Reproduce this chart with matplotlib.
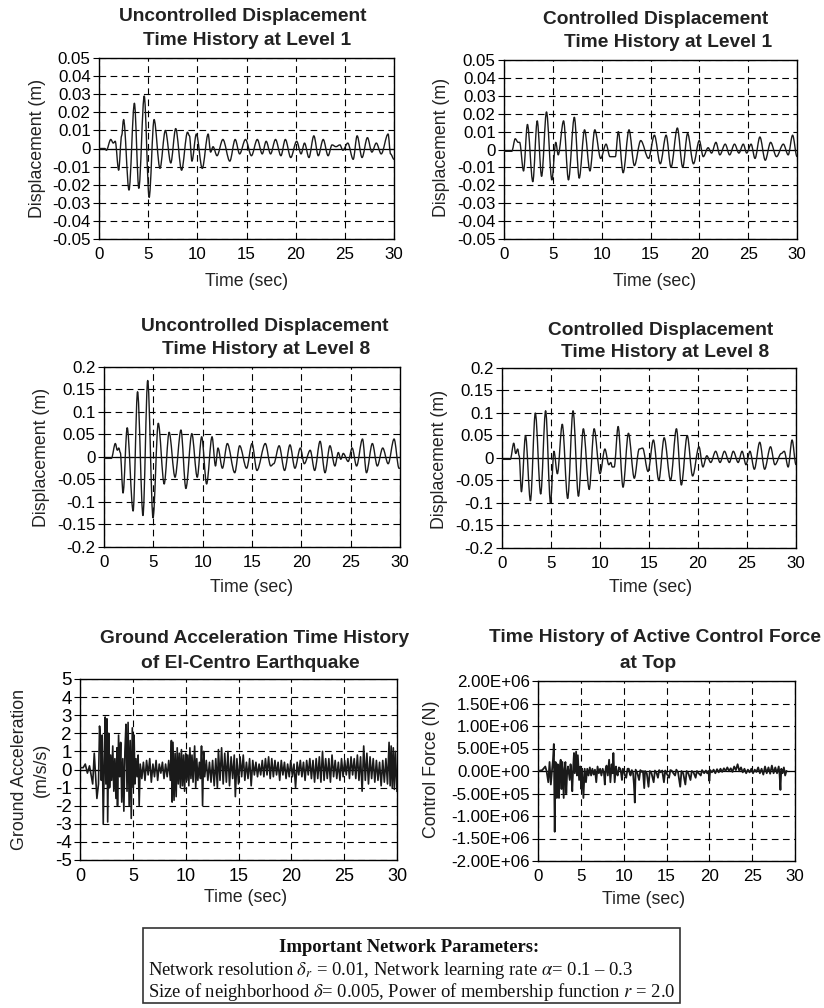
import matplotlib
matplotlib.use("Agg")
import matplotlib.pyplot as plt
from matplotlib.ticker import FuncFormatter
from matplotlib.patches import Rectangle, PathPatch
from matplotlib.path import Path

plt.rcParams['font.family'] = ['Liberation Sans', 'DejaVu Sans']
plt.rcParams['axes.unicode_minus'] = False
plt.rcParams['mathtext.fontset'] = 'stix'

# ---- data (extrema of each time history) ----
# displacement at level 1, uncontrolled (m)
t_unc1 = [0.0, 0.6, 0.75, 1.2, 1.45, 1.65, 2.0, 2.3, 2.5, 3.05,
          3.6, 4.05, 4.6, 5.1, 5.6, 6.2, 6.75, 7.3, 7.8, 8.4,
          9.0, 9.2, 9.45, 9.9, 10.5, 11.1, 11.35, 11.6, 12.0, 12.6,
          13.3, 13.85, 14.3, 14.9, 15.5, 16.1, 16.6, 17.0, 17.45, 17.95,
          18.5, 18.95, 19.5, 20.1, 20.55, 20.9, 21.35, 21.85, 22.3, 22.8,
          23.3, 23.7, 24.1, 24.5, 24.8, 25.3, 25.85, 26.25, 26.75, 27.3,
          27.75, 28.2, 28.7, 29.4, 29.65, 30.0]
d_unc1 = [0.0, 0.0, -0.001, 0.005, 0.003, 0.004, -0.012, 0.007, 0.016, -0.023,
          0.025, -0.022, 0.029, -0.027, 0.016, -0.011, 0.010, -0.008, 0.011, -0.012,
          0.009, 0.007, -0.007, 0.008, -0.011, 0.008, -0.002, 0.001, -0.004, 0.005,
          -0.007, 0.005, -0.003, 0.005, -0.004, 0.005, -0.003, 0.004, -0.003, 0.005,
          -0.004, 0.005, -0.005, 0.004, -0.003, 0.003, -0.005, 0.007, -0.004, 0.005,
          -0.004, 0.002, 0.001, 0.002, -0.001, 0.003, -0.006, 0.007, -0.005, 0.006,
          -0.002, 0.003, -0.003, 0.008, -0.003, -0.006]

# displacement at level 1, controlled (m)
t_con1 = [0.0, 0.8, 1.15, 1.45, 1.6, 2.0, 2.4, 2.95, 3.4, 3.85,
          4.35, 4.9, 5.3, 5.55, 6.1, 6.6, 7.2, 7.7, 8.25, 8.8,
          9.3, 9.9, 10.45, 10.85, 11.4, 11.7, 12.2, 12.8, 13.35, 14.0,
          14.8, 15.4, 16.0, 16.6, 17.1, 17.75, 18.3, 18.8, 19.4, 20.0,
          20.4, 20.9, 21.25, 21.7, 22.1, 22.65, 23.1, 23.6, 24.05, 24.5,
          24.85, 25.3, 25.7, 26.2, 26.75, 27.3, 27.9, 28.6, 29.1, 29.55,
          30.0]
d_con1 = [-0.001, -0.001, 0.006, 0.004, 0.004, -0.012, 0.014, -0.018, 0.016, -0.015,
          0.021, -0.017, 0.004, -0.003, 0.016, -0.017, 0.018, -0.016, 0.011, -0.012,
          0.011, -0.005, 0.003, -0.004, -0.004, 0.010, -0.013, 0.011, -0.009, 0.005,
          -0.005, 0.008, -0.008, 0.008, -0.010, 0.012, -0.010, 0.009, -0.008, 0.005,
          -0.004, 0.001, -0.002, 0.004, -0.003, 0.003, -0.003, 0.003, -0.002, 0.003,
          -0.002, 0.003, -0.005, 0.007, -0.006, 0.004, -0.004, 0.003, -0.003, 0.008,
          -0.004]

# displacement at level 8, uncontrolled (m)
t_unc8 = [0.0, 0.75, 1.15, 1.35, 1.5, 1.65, 1.93, 2.35, 2.95, 3.4,
          3.95, 4.43, 4.97, 5.5, 6.1, 6.6, 7.2, 7.8, 8.3, 8.9,
          9.45, 9.9, 10.4, 10.95, 11.3, 11.55, 12.0, 12.5, 13.25, 13.75,
          14.45, 15.0, 15.5, 16.35, 16.9, 17.2, 17.75, 18.3, 18.85, 19.35,
          19.9, 20.3, 20.9, 21.35, 21.9, 22.4, 22.9, 23.4, 23.75, 24.0,
          24.25, 24.75, 25.15, 25.6, 26.2, 26.6, 27.2, 27.7, 28.25, 28.8,
          29.4, 29.9, 30.0]
d_unc8 = [-0.003, -0.003, 0.030, 0.015, 0.020, 0.010, -0.080, 0.065, -0.120, 0.145,
          -0.130, 0.170, -0.135, 0.075, -0.060, 0.055, -0.045, 0.060, -0.070, 0.052,
          -0.045, 0.045, -0.060, 0.045, -0.020, 0.020, -0.025, 0.030, -0.035, 0.025,
          -0.025, 0.030, -0.030, 0.030, -0.020, -0.015, 0.025, -0.030, 0.027, -0.025,
          0.020, -0.015, 0.015, -0.030, 0.035, -0.035, 0.025, -0.020, 0.010, -0.005,
          0.008, -0.010, 0.020, -0.020, 0.040, -0.035, 0.030, -0.020, 0.020, -0.015,
          0.040, -0.025, -0.025]

# displacement at level 8, controlled (m)
t_con8 = [0.0, 0.85, 1.2, 1.4, 1.6, 1.75, 1.98, 2.4, 2.9, 3.4,
          3.95, 4.45, 4.95, 5.3, 5.65, 6.15, 6.7, 7.25, 7.8, 8.3,
          8.9, 9.4, 10.0, 10.5, 10.9, 11.1, 11.25, 11.45, 11.85, 12.35,
          12.9, 13.5, 14.0, 14.35, 14.9, 15.45, 16.0, 16.55, 17.2, 17.8,
          18.3, 18.9, 19.45, 20.1, 20.5, 20.9, 21.3, 21.8, 22.25, 22.7,
          23.2, 23.6, 24.1, 24.5, 24.9, 25.3, 25.75, 26.3, 26.8, 27.4,
          27.85, 28.5, 28.8, 29.2, 29.6, 30.0]
d_con8 = [-0.003, -0.003, 0.033, 0.010, 0.020, 0.005, -0.075, 0.050, -0.095, 0.100,
          -0.080, 0.105, -0.100, 0.015, -0.035, 0.075, -0.090, 0.105, -0.085, 0.065,
          -0.070, 0.065, -0.035, 0.020, -0.015, -0.010, -0.020, -0.020, 0.070, -0.065,
          0.055, -0.045, 0.020, 0.022, -0.030, 0.040, -0.050, 0.045, -0.050, 0.065,
          -0.060, 0.050, -0.040, 0.025, -0.020, 0.005, -0.010, 0.015, -0.010, 0.015,
          -0.010, 0.015, -0.010, 0.015, -0.015, 0.015, -0.025, 0.035, -0.025, 0.025,
          -0.015, 0.010, 0.015, -0.020, 0.040, -0.015]

# El-Centro ground acceleration (m/s/s)
t_acc = [0.0, 0.3, 0.5, 0.7, 0.9, 1.05, 1.2, 1.35, 1.5, 1.6,
         1.75, 1.85, 1.95, 2.02, 2.1, 2.2, 2.3, 2.38, 2.45, 2.55,
         2.62, 2.72, 2.8, 2.9, 3.0, 3.1, 3.2, 3.3, 3.4, 3.5,
         3.55, 3.65, 3.75, 3.85, 3.95, 4.05, 4.15, 4.25, 4.35, 4.45,
         4.55, 4.65, 4.75, 4.85, 4.95, 5.05, 5.12, 5.2, 5.3, 5.4,
         5.5, 5.6, 5.7, 5.85, 6.0, 6.15, 6.3, 6.45, 6.6, 6.75,
         6.9, 7.05, 7.2, 7.35, 7.5, 7.65, 7.8, 7.95, 8.1, 8.25,
         8.4, 8.55, 8.65, 8.72, 8.8, 8.9, 9.0, 9.1, 9.2, 9.3,
         9.4, 9.5, 9.6, 9.7, 9.8, 9.9, 10.0, 10.1, 10.2, 10.3,
         10.4, 10.5, 10.6, 10.7, 10.85, 10.95, 11.05, 11.15, 11.3, 11.4,
         11.5, 11.6, 11.7, 11.8, 11.95, 12.1, 12.25, 12.4, 12.55, 12.7,
         12.85, 13.0, 13.1, 13.25, 13.4, 13.55, 13.7, 13.85, 14.0, 14.15,
         14.3, 14.45, 14.6, 14.7, 14.85, 15.0, 15.15, 15.3, 15.45, 15.6,
         15.75, 15.9, 16.05, 16.2, 16.35, 16.5, 16.65, 16.8, 16.95, 17.1,
         17.25, 17.4, 17.55, 17.7, 17.85, 18.0, 18.15, 18.3, 18.45, 18.6,
         18.75, 18.9, 19.05, 19.2, 19.35, 19.5, 19.65, 19.8, 19.95, 20.1,
         20.25, 20.4, 20.55, 20.7, 20.85, 21.0, 21.15, 21.3, 21.45, 21.6,
         21.75, 21.9, 22.05, 22.2, 22.35, 22.5, 22.65, 22.8, 22.95, 23.1,
         23.25, 23.4, 23.55, 23.7, 23.85, 24.0, 24.15, 24.3, 24.45, 24.6,
         24.75, 24.9, 25.05, 25.2, 25.35, 25.5, 25.65, 25.8, 25.95, 26.1,
         26.25, 26.4, 26.55, 26.7, 26.85, 27.0, 27.15, 27.3, 27.45, 27.6,
         27.75, 27.9, 28.05, 28.2, 28.35, 28.5, 28.65, 28.8, 28.95, 29.1,
         29.25, 29.35, 29.45, 29.55, 29.65, 29.75, 29.85, 30.0]
a_acc = [0.1, 0.1, 0.3, -0.2, 0.2, -0.3, -0.8, 0.9, -0.6, -1.6,
         -0.8, 2.4, 1.6, -0.6, 1.9, -3.0, 0.5, 2.9, -0.8, 2.8,
         -2.9, 2.0, -1.0, 0.8, -0.6, 1.3, -1.2, 0.6, -1.6, 1.2,
         -2.0, 1.9, -0.4, 1.5, -1.8, 0.6, -2.3, 1.0, 2.5, -1.2,
         2.6, -2.0, 1.6, -2.7, 2.3, -1.0, 1.9, -0.8, 0.6, -0.4,
         0.8, -2.0, 0.3, -0.5, 0.4, -0.6, 0.5, -0.3, 0.6, -0.7,
         0.3, -0.4, 0.5, -0.6, 0.3, -0.2, 0.4, -0.5, 0.3, -0.4,
         0.5, -0.6, 1.6, -1.8, 1.5, -1.7, 0.9, -1.5, 1.2, -0.8,
         0.9, -1.0, 1.1, -0.9, 0.8, -1.2, 0.9, -0.6, 0.8, -0.9,
         1.2, -0.5, 0.8, -0.7, 1.3, -1.0, 0.6, -0.6, 0.4, -0.5,
         1.3, -2.0, 1.0, -0.4, 0.5, -0.6, 0.4, -0.7, 0.5, -0.9,
         0.6, -1.0, 1.1, -0.6, 1.2, -0.8, 0.9, -0.7, 1.0, -0.9,
         0.7, -0.5, 0.8, -1.5, 0.6, -0.8, 0.7, -0.4, 0.8, -0.6,
         0.4, -0.5, 0.6, -0.9, 0.5, -0.3, 0.4, -0.4, 0.3, -0.3,
         0.5, -0.4, 0.6, -0.3, 0.7, -0.5, 0.6, -0.4, 0.5, -0.3,
         0.4, -0.6, 0.5, -0.3, 0.4, -0.5, 0.3, -0.4, 0.5, -0.4,
         0.3, -1.0, 0.4, -0.3, 0.5, -0.4, 0.4, -0.6, 0.5, -0.3,
         0.6, -0.5, 0.5, -0.7, 0.6, -0.5, 0.7, -0.7, 1.0, -0.6,
         0.6, -0.5, 0.6, -0.7, 0.8, -0.4, 0.5, -0.5, 0.4, -0.6,
         0.6, -0.4, 0.5, -0.3, 0.6, -0.5, 0.7, -0.3, 0.6, -0.5,
         0.8, -0.6, 0.7, -1.2, 1.3, -0.6, 0.9, -0.8, 0.7, -0.5,
         0.6, -0.7, 0.5, -0.6, 0.4, -0.9, 0.5, -0.7, 0.6, -0.8,
         1.5, -0.9, 1.3, -1.0, 1.2, -1.1, 1.0, -1.2]

# active control force at top (N)
t_frc = [0.0, 0.5, 0.85, 1.0, 1.2, 1.35, 1.5, 1.65, 1.75, 1.85,
         1.95, 2.05, 2.15, 2.2, 2.3, 2.4, 2.45, 2.55, 2.65, 2.75,
         2.85, 3.0, 3.1, 3.2, 3.3, 3.4, 3.5, 3.6, 3.7, 3.8,
         3.9, 4.0, 4.1, 4.2, 4.3, 4.45, 4.55, 4.65, 4.8, 4.95,
         5.05, 5.15, 5.3, 5.45, 5.6, 5.75, 5.9, 6.05, 6.2, 6.35,
         6.5, 6.65, 6.8, 6.95, 7.1, 7.25, 7.4, 7.55, 7.7, 7.8,
         7.9, 8.0, 8.15, 8.3, 8.45, 8.6, 8.7, 8.8, 8.95, 9.1,
         9.2, 9.3, 9.45, 9.6, 9.7, 9.8, 9.9, 10.0, 10.15, 10.3,
         10.45, 10.6, 10.7, 10.8, 10.95, 11.1, 11.2, 11.3, 11.4, 11.6,
         11.8, 11.95, 12.1, 12.25, 12.4, 12.5, 12.7, 12.9, 13.05, 13.25,
         13.5, 13.65, 13.85, 14.0, 14.15, 14.3, 14.5, 14.7, 14.85, 15.0,
         15.3, 15.45, 15.6, 15.8, 16.0, 16.15, 16.35, 16.6, 16.75, 16.95,
         17.2, 17.35, 17.55, 17.8, 17.95, 18.15, 18.4, 18.55, 18.75, 19.0,
         19.15, 19.4, 19.6, 19.75, 19.9, 20.0, 20.1, 20.3, 20.5, 20.7,
         20.9, 21.1, 21.3, 21.5, 21.7, 21.9, 22.1, 22.3, 22.5, 22.7,
         22.9, 23.1, 23.3, 23.5, 23.7, 23.9, 24.1, 24.3, 24.5, 24.7,
         24.9, 25.1, 25.3, 25.5, 25.7, 25.9, 26.1, 26.3, 26.5, 26.7,
         26.9, 27.1, 27.3, 27.5, 27.7, 27.9, 28.1, 28.2, 28.3, 28.4,
         28.55, 28.7, 28.85, 29.0]
f_frc = [0.0, 0.2e5, 1.0e5, 0.0, -2.5e5, 2.0e5, -3.0e5, 0.5e5, 2.5e5, 6.0e5,
         -13.5e5, 2.0e5, -2.0e5, -6.0e5, 1.5e5, -1.0e5, -6.0e5, 1.0e5, 2.5e5, -4.0e5,
         2.0e5, -6.0e5, 0.5e5, 2.0e5, -5.0e5, -0.5e5, 1.0e5, -0.5e5, -2.0e5, 1.5e5,
         -0.5e5, -4.5e5, 0.5e5, 4.0e5, -0.5e5, 4.3e5, -1.0e5, 3.5e5, -2.0e5, 1.0e5,
         -4.0e5, 0.5e5, -6.0e5, 0.5e5, -2.5e5, 0.5e5, -1.0e5, 0.8e5, -1.0e5, 0.5e5,
         -0.8e5, 0.3e5, -2.5e5, 1.0e5, -0.5e5, 0.5e5, -1.0e5, 0.5e5, -0.5e5, -3.0e5,
         0.5e5, 1.2e5, -1.0e5, 2.5e5, -2.5e5, 1.5e5, -0.5e5, 4.0e5, -2.5e5, 1.0e5,
         -0.5e5, -1.0e5, 0.8e5, 0.5e5, -0.5e5, -2.0e5, 0.5e5, 0.2e5, -1.0e5, -1.5e5,
         0.5e5, 0.5e5, -0.5e5, -1.0e5, 0.2e5, -0.5e5, -3.0e5, -7.0e5, 0.3e5, -0.5e5,
         -2.0e5, 0.2e5, -0.2e5, 0.0, -3.8e5, 0.0, -0.5e5, -3.5e5, 0.0, -0.5e5,
         -2.5e5, 0.1e5, -0.5e5, -1.5e5, 0.2e5, -0.3e5, 0.1e5, -2.5e5, 0.1e5, -0.5e5,
         -1.5e5, 0.2e5, 0.1e5, -0.5e5, -1.0e5, 0.3e5, -0.3e5, -3.5e5, 0.0, -0.5e5,
         -3.0e5, 0.0, -0.5e5, -2.0e5, 0.0, -0.3e5, -1.5e5, 0.0, -0.5e5, -1.0e5,
         0.2e5, -0.5e5, 0.1e5, -0.5e5, 0.0, -2.2e5, 0.2e5, -0.3e5, 0.3e5, -0.5e5,
         0.4e5, -0.3e5, 0.5e5, -0.2e5, 0.6e5, 0.0, 0.8e5, 0.0, 0.6e5, -0.2e5,
         1.0e5, 0.2e5, 1.5e5, 0.0, 0.8e5, -0.3e5, 0.5e5, -0.5e5, 0.3e5, -0.3e5,
         0.5e5, -0.5e5, 0.3e5, -0.2e5, 0.8e5, -0.5e5, 0.5e5, -0.8e5, 1.0e5, -0.5e5,
         0.8e5, -0.6e5, 1.2e5, -0.5e5, 0.8e5, -0.5e5, 1.0e5, -0.8e5, -4.2e5, 0.5e5,
         -0.5e5, 0.8e5, -1.0e5, 0.0]

time_ticks = [0, 5, 10, 15, 20, 25, 30]
ticks_l1 = [-0.05, -0.04, -0.03, -0.02, -0.01, 0, 0.01, 0.02, 0.03, 0.04, 0.05]
ticks_l8 = [-0.2, -0.15, -0.1, -0.05, 0, 0.05, 0.1, 0.15, 0.2]
ticks_acc = [-5, -4, -3, -2, -1, 0, 1, 2, 3, 4, 5]
ticks_frc = [-2.0e6, -1.5e6, -1.0e6, -0.5e6, 0, 0.5e6, 1.0e6, 1.5e6, 2.0e6]

for a, b in [(t_unc1, d_unc1), (t_con1, d_con1), (t_unc8, d_unc8),
             (t_con8, d_con8), (t_acc, a_acc), (t_frc, f_frc)]:
    assert len(a) == len(b), (len(a), len(b))

W, H = 824, 1008
fig = plt.figure(figsize=(W / 100, H / 100), dpi=100)
LINE = '#1a1a1a'


def px_axes(left, right, top, bottom):
    return fig.add_axes([left / W, 1 - bottom / H, (right - left) / W, (bottom - top) / H])


def ptext(x, y, s, **kw):
    fig.text(x / W, 1 - y / H, s, **kw)


def plain(v, _):
    if abs(v) < 1e-12:
        return '0'
    return f'{v:g}'


def sci(v, _):
    if abs(v) < 1e-6:
        v = 0.0
    return f'{v:.2E}'


def smooth_trace(ax, t, y, lw):
    # rounded swings between the read extrema (flat tangent at each peak)
    verts = [(t[0], y[0])]
    codes = [Path.MOVETO]
    for i in range(1, len(t)):
        dt = (t[i] - t[i - 1]) / 3.0
        verts += [(t[i - 1] + dt, y[i - 1]), (t[i] - dt, y[i]), (t[i], y[i])]
        codes += [Path.CURVE4] * 3
    ax.add_patch(PathPatch(Path(verts, codes), fill=False, edgecolor=LINE,
                           lw=lw, zorder=3, joinstyle='round'))


def setup(ax, yticks, fmt):
    ax.axhline(0, color='black', lw=0.9, zorder=2)
    ax.set_xlim(0, 30)
    ax.set_ylim(yticks[0], yticks[-1])
    ax.set_xticks(time_ticks)
    ax.set_yticks(yticks)
    ax.yaxis.set_major_formatter(FuncFormatter(fmt))
    ax.grid(True, color='black', lw=0.8, linestyle=(0, (6, 4)))
    ax.tick_params(axis='y', direction='out', length=4, width=0.8, labelsize=12.2, pad=2)
    ax.tick_params(axis='x', direction='out', length=0, labelsize=12.2, pad=6)
    for s in ax.spines.values():
        s.set_linewidth(1.0)


tkw = dict(fontsize=13.8, fontweight='bold', ha='center', va='baseline', color='#222222')
lkw = dict(fontsize=12.8, ha='center', va='center', color='#222222')

# top row: level 1
ax1 = px_axes(99, 394, 58, 239)
setup(ax1, ticks_l1, plain)
smooth_trace(ax1, t_unc1, d_unc1, 1.0)
ptext(243, 21, 'Uncontrolled Displacement', **tkw)
ptext(247, 45, 'Time History at Level 1', **tkw)
ptext(37, 148, 'Displacement (m)', rotation=90, **lkw)
ptext(247, 281, 'Time (sec)', **lkw)

ax2 = px_axes(504, 797, 60, 239)
setup(ax2, ticks_l1, plain)
smooth_trace(ax2, t_con1, d_con1, 1.0)
ptext(656, 24, 'Controlled Displacement', **tkw)
ptext(668, 47, 'Time History at Level 1', **tkw)
ptext(441, 147, 'Displacement (m)', rotation=90, **lkw)
ptext(655, 282, 'Time (sec)', **lkw)

# middle row: level 8
ax3 = px_axes(104, 400, 367, 547)
setup(ax3, ticks_l8, plain)
smooth_trace(ax3, t_unc8, d_unc8, 1.0)
ptext(265, 331, 'Uncontrolled Displacement', **tkw)
ptext(266, 354, 'Time History at Level 8', **tkw)
ptext(42, 457, 'Displacement (m)', rotation=90, **lkw)
ptext(252, 587, 'Time (sec)', **lkw)

ax4 = px_axes(502, 796, 368, 548)
setup(ax4, ticks_l8, plain)
smooth_trace(ax4, t_con8, d_con8, 1.0)
ptext(661, 335, 'Controlled Displacement', **tkw)
ptext(665, 357, 'Time History at Level 8', **tkw)
ptext(439, 459, 'Displacement (m)', rotation=90, **lkw)
ptext(651, 587, 'Time (sec)', **lkw)

# bottom row: ground motion and control force
ax5 = px_axes(80, 397, 679, 860)
setup(ax5, ticks_acc, plain)
ax5.plot(t_acc, a_acc, color=LINE, lw=1.2, zorder=3)
ax5.tick_params(axis='y', labelsize=13.5)
ax5.tick_params(axis='x', labelsize=13)
ptext(255, 643, 'Ground Acceleration Time History', **tkw)
ptext(250, 668, 'of El-Centro Earthquake', **tkw)
ptext(20, 769, 'Ground Acceleration', rotation=90, **lkw)
ptext(41, 770, '(m/s/s)', rotation=90, **lkw)
ptext(246, 898, 'Time (sec)', **lkw)

ax6 = px_axes(538, 795, 681, 861)
setup(ax6, ticks_frc, sci)
ax6.plot(t_frc, f_frc, color=LINE, lw=1.3, zorder=3)
ptext(655, 642, 'Time History of Active Control Force', **tkw)
ptext(648, 668, 'at Top', **tkw)
ptext(431, 769, 'Control Force (N)', rotation=90, **lkw)
ptext(644, 899, 'Time (sec)', **lkw)

# parameter box
fig.patches.append(Rectangle((143 / W, 1 - 1003 / H), (680 - 143) / W, (1003 - 928) / H,
                             transform=fig.transFigure, fill=False, edgecolor='#333333', lw=1.2))
skw = dict(fontsize=13.4, family=['Liberation Serif', 'DejaVu Serif'], color='#111111', va='baseline')
ptext(409, 952, 'Important Network Parameters:', ha='center', fontweight='bold', **skw)
ptext(148, 975, r'Network resolution $\delta_r$ = 0.01, Network learning rate $\alpha$= 0.1 – 0.3',
      ha='left', **skw)
ptext(148, 997, r'Size of neighborhood $\delta$= 0.005, Power of membership function $r$ = 2.0',
      ha='left', **skw)

fig.savefig('out.png', dpi=100)
